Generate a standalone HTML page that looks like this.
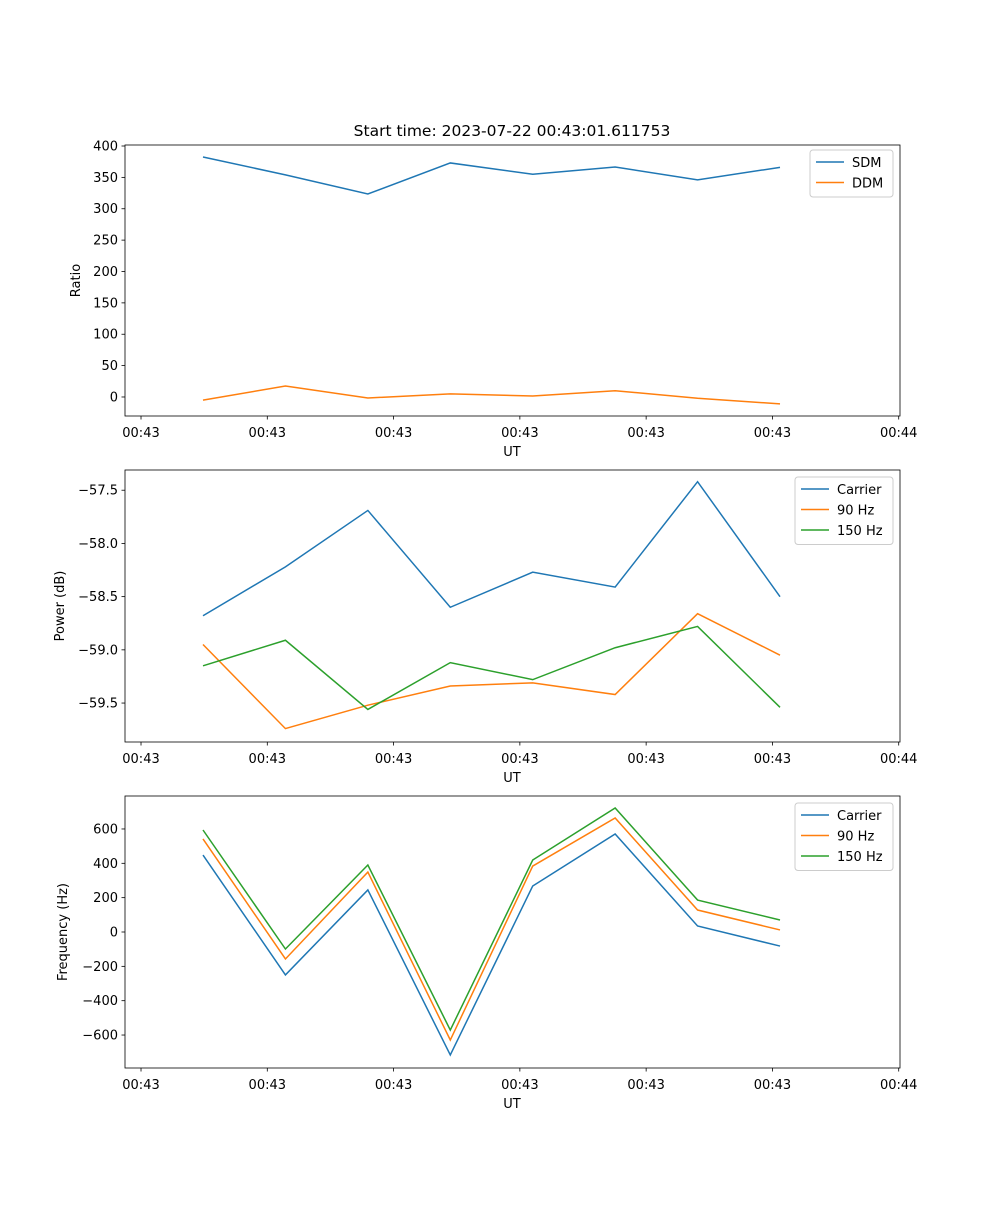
<!DOCTYPE html>
<html><head><meta charset="utf-8"><style>
body{margin:0;background:#fff;}
svg text{font-family:"DejaVu Sans","Liberation Sans",sans-serif;font-size:13px;fill:#000;}
</style></head><body>
<svg id="fig" width="1000" height="1200" xmlns="http://www.w3.org/2000/svg">
<text x="512" y="136" text-anchor="middle" style="font-size:15.5px">Start time: 2023-07-22 00:43:01.611753</text>
</svg>
<script>
const xIdx = [0,1,2,3,4,5,6,7];
const xTickVals = [-0.752,0.78,2.312,3.844,5.376,6.908,8.44];
const xTickLabels = ["00:43","00:43","00:43","00:43","00:43","00:43","00:44"];
const sdm = [382.5,354,323.5,373,355,366.5,346,366];
const ddm = [-5,17.5,-1.6,5,1.6,10,-2,-11];
const pwrCarrier = [-58.68,-58.22,-57.69,-58.60,-58.27,-58.41,-57.42,-58.50];
const pwr90 = [-58.95,-59.74,-59.52,-59.34,-59.31,-59.42,-58.66,-59.05];
const pwr150 = [-59.15,-58.91,-59.56,-59.12,-59.28,-58.98,-58.78,-59.54];
const frqCarrier = [448,-250,245,-716,268,571,35,-82];
const frq90 = [542,-157,349,-629,384,664,128,12];
const frq150 = [594,-99,390,-571,419,722,186,70];
const ratioTicks = [0,50,100,150,200,250,300,350,400];
const powerTicks = [-59.5,-59.0,-58.5,-58.0,-57.5];
const powerTickLabels = ["\u221259.5","\u221259.0","\u221258.5","\u221258.0","\u221257.5"];
const freqTicks = [-600,-400,-200,0,200,400,600];

const NS="http://www.w3.org/2000/svg";
const svg=document.getElementById('fig');
const C=['#1f77b4','#ff7f0e','#2ca02c'];
function el(tag,attrs,parent){const e=document.createElementNS(NS,tag);for(const k in attrs)e.setAttribute(k,attrs[k]);(parent||svg).appendChild(e);return e;}
const X0=125,X1=900;
function xs(i){return 203+i*82.43;}

function panel(top,bottom,ymin,ymax,yt,ytl,ylabel,series,names,legend,pname){
  const g=el('g',{});
  
  
  const ys=v=>bottom-(v-ymin)/(ymax-ymin)*(bottom-top);
  series.forEach((s,k)=>{
    const p=el('polyline',{points:s.map((v,i)=>xs(xIdx[i])+','+ys(v)).join(' '),fill:'none',stroke:C[k],'stroke-width':1.5},g);
    
    
  });
  const fr=el('rect',{x:X0,y:top,width:X1-X0,height:bottom-top,fill:'none',stroke:'#000','stroke-width':0.8},g);
  
  
  xTickVals.forEach((v,i)=>{
    const x=xs(v);
    el('line',{x1:x,x2:x,y1:bottom,y2:bottom+3.5,stroke:'#000','stroke-width':0.8},g);
    const t=el('text',{x:x,y:bottom+21,'text-anchor':'middle'},g);t.textContent=xTickLabels[i];
    
    
  });
  const xl=el('text',{x:512,y:bottom+40,'text-anchor':'middle'},g);xl.textContent='UT';
  
  
  yt.forEach((v,i)=>{
    const y=ys(v);
    el('line',{x1:X0-3.5,x2:X0,y1:y,y2:y,stroke:'#000','stroke-width':0.8},g);
    const t=el('text',{x:X0-7,y:y+4.5,'text-anchor':'end'},g);t.textContent=ytl[i];
    
    
  });
  const ylx=ylabel.x;
  const yl=el('text',{x:ylx,y:(top+bottom)/2,'text-anchor':'middle',transform:`rotate(-90 ${ylx} ${(top+bottom)/2})`},g);yl.textContent=ylabel.t;
  
  
  const lg=el('g',{},g);
  
  
  el('rect',{x:legend.x,y:legend.y,width:legend.w,height:6+names.length*20.5,fill:'#fff',stroke:'#ccc',rx:3},lg);
  names.forEach((n,k)=>{
    const y=legend.y+12+k*20.5;
    el('line',{x1:legend.x+6,x2:legend.x+34,y1:y,y2:y,stroke:C[k],'stroke-width':1.5},lg);
    const t=el('text',{x:legend.x+42,y:y+5},lg);t.textContent=n;
    
    
  });
}
panel(145,416,-30.3,401.6,ratioTicks,ratioTicks.map(String),{x:80,t:'Ratio'},[sdm,ddm],['SDM','DDM'],{x:810,y:150,w:83},'ratio-panel');
panel(470,742,-59.866,-57.31,powerTicks,powerTickLabels,{x:64,t:'Power (dB)'},[pwrCarrier,pwr90,pwr150],['Carrier','90 Hz','150 Hz'],{x:795,y:477,w:98},'power-panel');
panel(796,1068,-792,792,freqTicks,freqTicks.map(v=>v<0?'\u2212'+(-v):String(v)),{x:67,t:'Frequency (Hz)'},[frqCarrier,frq90,frq150],['Carrier','90 Hz','150 Hz'],{x:795,y:803,w:98},'frequency-panel');
</script>
</body></html>
